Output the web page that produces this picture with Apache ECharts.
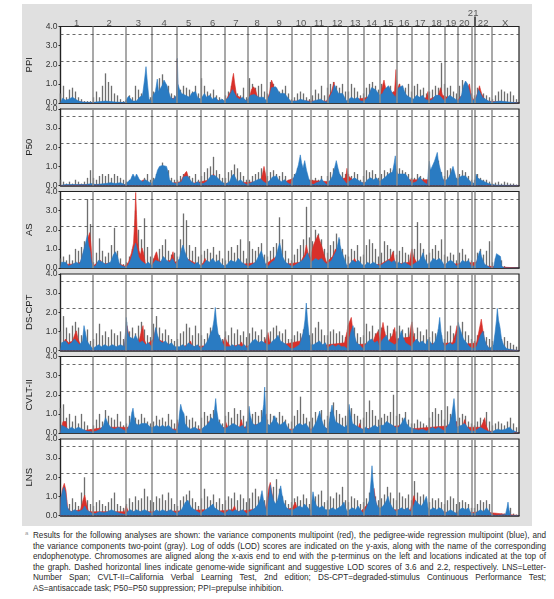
<!DOCTYPE html>
<html><head><meta charset="utf-8">
<script src="https://cdn.jsdelivr.net/npm/echarts@6/dist/echarts.min.js"></script>
<style>
html,body{margin:0;padding:0;background:#fff;}
#wrap{position:relative;width:554px;height:599px;overflow:hidden;}
#bg{position:absolute;left:22px;top:4px;width:510px;height:522px;background:#e0e0e0;}
#chart{position:absolute;left:0;top:0;width:554px;height:530px;}
#note{position:absolute;left:33px;top:531px;width:513px;font-family:'Liberation Sans',Arial,sans-serif;font-size:8.15px;color:#2a2a2a;line-height:10.5px;}
#note div{text-align:justify;text-align-last:justify;white-space:nowrap;}
#note div.last{text-align-last:left;}
#sup{position:absolute;left:25px;top:530px;font-family:'Liberation Sans',Arial,sans-serif;font-size:6px;color:#999;}
</style></head>
<body>
<div id="wrap">
<div id="bg"></div>
<div id="chart"></div>
<div id="sup">a</div>
<div id="note">
<div>Results for the following analyses are shown: the variance components multipoint (red), the pedigree-wide regression multipoint (blue), and</div>
<div>the variance components two-point (gray). Log of odds (LOD) scores are indicated on the y-axis, along with the name of the corresponding</div>
<div>endophenotype. Chromosomes are aligned along the x-axis end to end with the p-terminus on the left and locations indicated at the top of</div>
<div>the graph. Dashed horizontal lines indicate genome-wide significant and suggestive LOD scores of 3.6 and 2.2, respectively. LNS=Letter-</div>
<div>Number Span; CVLT-II=California Verbal Learning Test, 2nd edition; DS-CPT=degraded-stimulus Continuous Performance Test;</div>
<div class="last">AS=antisaccade task; P50=P50 suppression; PPI=prepulse inhibition.</div>
</div>
</div>
<script>
// ---- axes / categories ----
const chromNames = ['1','2','3','4','5','6','7','8','9','10','11','12','13','14','15','16','17','18','19','20','21','22','X'];
const chromBounds = [0,32.5,64.8,91.2,116.2,140.2,164.2,186.8,206.5,230.8,250.2,266.8,286.8,302.8,319.5,335.8,351.5,367.8,384.2,396.8,410.8,414.5,430.8,458.5];
const panelNames = ['PPI','P50','AS','DS-CPT','CVLT-II','LNS'];
const lodMax = 4;
const thresholds = [3.6, 2.2];
const grayStep = 3; // genome-position spacing of two-point values

// ---- PPI ----
const ppiBlue = [[0,0],[2,0.25],[5,0.15],[8,0.2],[12,0.3],[15,0.2],[18,0.1],[22,0.05],[32,0.02],[35,0.05],[45,0.1],[55,0.05],[64,0.02],[66,0],[68,0.35],[70,0.4],[72,0.1],[76,0.1],[79,0.3],[82,0.4],[84,1.2],[85.5,1.9],[87,1.0],[88.5,0.2],[91,0.1],[91.5,0.3],[93,0.45],[95,0.6],[96.8,1.25],[98,0.6],[100,0.5],[101.5,0.9],[103.5,1.2],[105,1.2],[106.5,0.9],[108,0.6],[110,0.3],[113,0.2],[116,0.4],[116.3,0.5],[116.8,2.35],[117.5,1.0],[119,0.7],[121,0.5],[123,0.6],[125,0.4],[127,0.5],[129,0.3],[131,0.5],[133,0.4],[135,0.6],[137,0.3],[140,0.2],[142,0.3],[144,0.5],[146,0.3],[149,0.4],[152,0.2],[155,0.3],[158,0.1],[161,0.2],[164,0.1],[166,0.1],[168,0.3],[170,0.5],[172,0.7],[174,0.6],[176,0.3],[179,0.2],[182,0.3],[186,0.1],[188,0.2],[190,0.4],[192,0.5],[194,0.45],[196,0.5],[198,0.3],[200,0.2],[203,0.3],[206,0.1],[207,0.2],[209,0.4],[211,0.8],[213,0.9],[215,0.85],[217,0.7],[219,0.5],[221,0.4],[224,0.5],[227,0.3],[230,0.1],[232,0.05],[236,0.1],[240,0.2],[243,0.15],[247,0.1],[250,0.05],[252,0.05],[256,0.15],[260,0.2],[263,0.1],[266,0.05],[268,0.2],[270,0.4],[272,0.6],[274,0.95],[276,0.7],[278,0.5],[280,0.6],[282,0.5],[284,0.3],[286,0.1],[288,0.1],[291,0.3],[294,0.2],[297,0.3],[300,0.1],[302,0.05],[304,0.1],[307,0.3],[309,0.5],[311,0.8],[313,0.9],[315,0.7],[317,0.8],[319,0.4],[320,0.3],[322,0.5],[324,0.7],[326,0.8],[328,0.9],[330,0.7],[332,0.5],[335,0.3],[336,0.5],[338,0.8],[340,0.7],[342,0.9],[344,0.6],[346,0.4],[349,0.3],[351,0.2],[353,0.2],[356,0.4],[359,0.3],[362,0.4],[365,0.2],[367,0.1],[369,0.1],[372,0.2],[375,0.4],[377,0.5],[379,0.4],[381,0.3],[384,0.1],[386,0.2],[389,0.4],[392,0.3],[395,0.2],[398,0.1],[401,0.4],[403,0.9],[405,1.15],[407,1.0],[409,0.6],[410.5,0.3],[412,0.1],[414,0.1],[416,0.3],[418,0.7],[420,0.6],[422,0.3],[425,0.2],[428,0.1],[430,0.05],[432,0.05],[440,0.1],[448,0.05],[458,0]];
const ppiRed = [[0,0],[10,0.1],[30,0],[64,0],[80,0.1],[82,0.35],[84,0.2],[91,0.1],[100,0.3],[104,0.5],[110,0.2],[116,0.3],[116.5,2.3],[117.3,0.8],[120,0.3],[140,0.2],[165,0.1],[170,0.6],[172,1.3],[173,1.55],[174,1.1],[176,0.4],[186,0.1],[189,0.3],[191,0.7],[193,0.85],[195,0.7],[197,0.3],[206,0.1],[209,0.5],[211,1.2],[212.5,1.0],[214,0.6],[218,0.3],[230,0.1],[266,0.1],[271,0.6],[273.5,1.1],[275,0.6],[286,0.1],[308,0.3],[311,0.75],[313,0.5],[320,0.4],[322,0.9],[323.5,1.2],[325,0.8],[330,0.5],[334,0.6],[335.5,1.75],[336.5,0.7],[339,1.0],[341,0.6],[350,0.2],[360,0.1],[366,0.3],[367.5,0.6],[369,0.2],[378,0.4],[380,0.8],[382,0.4],[396,0.1],[405,0.6],[409,1.0],[410.5,0.4],[414,0.1],[417,0.5],[419,0.9],[421,0.5],[425,0.1],[458,0]];
const ppiGray = [0.5,0.9,0.3,0.7,0.8,0.6,0.3,0.2,0.1,0.1,0.1, 0.3,0.6,0.3,0.9,1.55,1.1,0.9,0.5,0.4,0.2,0.1, 0.1,0.4,0.3,0.9,0.7,0.5,0.6,0.4,0.3, 0.6,0.8,1.3,1.5,1.0,0.9,0.5,0.4, 0.5,0.7,0.9,0.8,0.7,0.6,0.9,0.5, 1.3,0.9,0.6,0.5,0.7,0.4,0.3,0.2, 0.4,0.6,0.9,0.8,0.5,0.4,0.8,0.3, 1.3,1.0,0.8,0.9,1.0,0.6, 0.5,1.1,1.0,0.8,0.6,0.7,0.9,0.5, 0.2,0.3,0.5,0.6,0.5,0.3,0.2, 0.4,0.7,0.5,0.9,0.4, 0.8,1.0,1.1,0.9,0.8,1.0,0.6, 0.6,1.0,0.8,0.6,0.4, 0.5,0.8,1.0,1.1,0.9,0.7, 1.0,0.9,0.7,0.9,0.6, 1.2,1.0,0.9,0.8,1.0,0.6, 0.9,1.0,0.7,0.8,0.5, 0.6,0.7,0.9,0.8,2.1,1.0, 0.8,0.9,0.6,0.5, 0.9,1.2,1.0,0.8, 0.5,0.4, 0.8,0.6,0.5,0.4,0.3, 0.2,0.4,0.6,0.7,0.6,0.5,0.6,0.4,0.2];

// ---- P50 ----
const p50Blue = [[0,0],[5,0.05],[15,0.05],[25,0.05],[32,0.1],[35,0.05],[45,0.1],[50,0.15],[55,0.1],[60,0.15],[64,0.05],[66,0.05],[70,0.3],[72.5,0.6],[74.5,0.4],[76,0.6],[77.5,0.7],[79,0.3],[82,0.2],[85,0.3],[88,0.2],[91,0.1],[93,0.2],[95,0.4],[97,0.8],[99,1.0],[100.5,0.9],[102,1.05],[104,1.1],[106,1.0],[107.5,0.7],[109,0.3],[112,0.15],[116,0.1],[118,0.1],[121,0.2],[123,0.45],[125,0.55],[127,0.5],[129,0.4],[131,0.2],[134,0.1],[137,0.2],[140,0.1],[143,0.1],[146,0.2],[149,0.4],[151,0.55],[153,0.6],[155,0.5],[157,0.55],[159,0.3],[162,0.15],[164,0.1],[166,0.1],[169,0.2],[171,0.45],[173,0.6],[175,0.4],[177,0.2],[180,0.3],[183,0.15],[186,0.05],[189,0.1],[193,0.2],[197,0.3],[200,0.35],[203,0.2],[206,0.1],[208,0.1],[210,0.3],[212,0.45],[214,0.4],[216,0.5],[218,0.3],[221,0.2],[224,0.3],[227,0.15],[230,0.05],[232,0.1],[234,0.5],[236,0.7],[238,1.1],[239.8,1.6],[241,1.2],[242.5,0.9],[244.2,1.3],[246,0.8],[248,0.4],[250,0.1],[253,0.05],[256,0.15],[259,0.2],[261,0.35],[263,0.2],[266,0.05],[268,0.1],[270,0.3],[272,0.5],[274,0.9],[275.8,1.3],[277.5,0.9],[279,0.6],[281,0.5],[283,0.3],[286,0.1],[288,0.1],[291,0.3],[294,0.4],[297,0.3],[300,0.2],[302,0.1],[304,0.1],[307,0.3],[310,0.4],[313,0.3],[316,0.4],[319,0.2],[321,0.2],[324,0.4],[326,0.5],[328,0.6],[330,0.5],[332,0.7],[333.8,1.2],[334.8,1.55],[335.6,0.9],[337,0.6],[339,0.5],[341,0.6],[343,0.7],[345,0.6],[347,0.5],[349,0.3],[351,0.1],[353,0.1],[356,0.2],[359,0.45],[361,0.3],[364,0.15],[367,0.05],[368,0.9],[368.8,1.27],[370,0.8],[372,0.9],[374,1.27],[375.5,1.2],[376.8,1.73],[378,1.2],[380,0.8],[382,0.4],[384,0.2],[386,0.2],[388,0.4],[390,0.6],[392.5,1.0],[394,0.7],[396,0.3],[398,0.2],[401,0.5],[403,0.6],[405,0.5],[407,0.6],[410,0.2],[412,0.1],[414,0.1],[415.5,0.6],[417,0.4],[420,0.3],[424,0.2],[428,0.1],[430,0.05],[435,0.02],[458,0]];
const p50Red = [[0,0],[30,0.05],[64,0.05],[80,0.2],[83,0.3],[85,0.1],[110,0.1],[120,0.2],[124,0.6],[126,0.74],[128,0.4],[131,0.1],[150,0.3],[153,0.6],[155,0.4],[160,0.1],[200,0.2],[202,0.6],[203.5,1.0],[205,0.6],[206.5,0.2],[220,0.1],[234,0.4],[236,0.5],[238,0.3],[270,0.2],[285,0.4],[286.5,0.9],[288,0.5],[292,0.3],[296,0.1],[330,0.3],[335,0.8],[340,0.3],[380,0.3],[396,0.2],[402,0.3],[404,0.5],[406,0.3],[410,0.1],[430,0],[458,0]];
const p50Gray = [0.3,0.2,0.1,0.2,0.1,0.3,0.2,0.1,0.2,0.4,0.8, 0.4,0.3,0.5,0.6,0.5,0.6,0.4,0.6,0.5,0.4,0.3, 0.2,0.3,0.5,0.4,0.3,0.2,0.4,0.6,0.3, 0.4,0.6,0.9,1.2,0.9,0.8,0.4,0.3, 0.3,0.5,0.6,0.7,0.5,0.4,0.6,0.3, 0.5,0.7,0.9,1.0,1.5,0.8,0.6,0.4, 0.4,0.7,0.8,1.1,0.9,0.7,0.5,0.3, 0.3,0.5,0.6,0.7,0.9,0.6, 0.5,0.7,0.8,0.6,0.5,0.7,0.5,0.3, 0.3,0.6,0.9,1.0,0.8,0.6,0.3, 0.3,0.4,0.3,0.5,0.2, 0.5,0.7,0.9,0.8,0.6,0.7,0.6, 0.6,0.5,0.7,0.6,0.3, 0.5,0.8,0.7,0.8,0.6,0.4, 0.6,0.8,0.7,0.9,0.8, 0.7,0.9,0.8,0.7,0.6,0.4, 0.4,0.6,0.5,0.4,0.3, 0.8,0.9,1.0,1.3,0.7,0.5, 0.8,0.9,0.7,0.4, 0.6,0.8,0.7,0.5, 0.3,0.3, 0.6,0.4,0.3,0.3,0.2, 0.1,0.15,0.2,0.1,0.2,0.15,0.1,0.1,0.05];

// ---- AS ----
const asBlue = [[0,0],[1,0.3],[3,0.2],[5,0.3],[8,0.1],[12,0.2],[16,0.3],[19,0.2],[21,0.5],[23,0.9],[25,1.3],[26.8,1.7],[28,1.2],[29.5,0.9],[31,0.3],[32.5,0.1],[35,0.1],[38,0.4],[40,0.5],[42,0.3],[45,0.2],[50,0.3],[53,0.7],[55,0.85],[57,0.6],[59,0.2],[62,0.1],[64.8,0.05],[67,0.1],[70,0.4],[72,0.7],[74,1.1],[75.2,1.3],[76.5,1.0],[78,0.6],[80,0.4],[82,0.3],[85,0.2],[88,0.3],[91,0.1],[93,0.2],[95,0.4],[97,0.5],[100,0.3],[103,0.6],[106,0.4],[109,0.3],[112,0.5],[115,0.2],[117,0.1],[119,0.5],[121,1.0],[122.5,1.2],[124,0.9],[126,0.6],[128,0.4],[131,0.3],[134,0.2],[137,0.3],[140,0.1],[143,0.2],[146,0.4],[149,0.3],[152,0.5],[155,0.3],[158,0.4],[161,0.2],[164,0.1],[167,0.2],[170,0.4],[172,0.5],[175,0.3],[178,0.5],[181,0.3],[184,0.2],[186.5,0.1],[189,0.1],[192,0.2],[195,0.3],[198,0.6],[200.8,0.9],[202.5,0.6],[205,0.2],[208,0.1],[211,0.3],[214,0.4],[216,0.7],[218,1.1],[219.2,1.3],[220.5,1.0],[222,0.6],[225,0.3],[228,0.2],[230.5,0.1],[233,0.1],[236,0.2],[239,0.3],[242,0.4],[245,0.6],[247,0.8],[249,0.5],[250.5,0.3],[252,0.4],[255,0.5],[258,0.4],[261,0.5],[264,0.3],[266.5,0.2],[268,0.1],[271,0.4],[274,0.7],[276,0.9],[277.5,1.3],[278.5,1.6],[279.5,1.2],[281,0.9],[283,0.6],[285,0.3],[286.5,0.1],[289,0.2],[292,0.4],[295,0.3],[298,0.4],[301,0.2],[304,0.1],[307,0.3],[310,0.2],[313,0.3],[316,0.2],[319,0.1],[322,0.2],[325,0.3],[328,0.4],[331,0.3],[334,0.4],[335.5,0.2],[338,0.3],[341,0.2],[344,0.3],[347,0.2],[350,0.1],[353,0.2],[356,0.3],[359,0.4],[361,0.6],[362.5,0.8],[364,0.5],[367,0.2],[370,0.3],[373,0.5],[376,0.4],[379,0.5],[382,0.3],[384,0.1],[387,0.3],[390,0.4],[393,0.3],[396,0.1],[399,0.2],[402,0.4],[405,0.3],[408,0.4],[410.5,0.1],[412,0.2],[414,0.1],[416,0.3],[418,0.7],[419.5,0.9],[421,0.6],[424,0.2],[427,0.1],[430.5,0],[433,0],[434.5,0.4],[436,0.75],[438,0.8],[440,0.6],[441,0.1],[444,0],[458,0]];
const asRed = [[0,0],[5,0.2],[15,0.2],[20,0.3],[23,0.8],[25,1.2],[27,1.5],[29.2,1.85],[30.5,1.2],[31.5,0.4],[32.5,0.1],[40,0.4],[42,0.2],[55,0.3],[64,0.1],[68,0.3],[71,0.8],[73,1.3],[74.3,2.6],[75.2,3.95],[76,2.8],[77,1.4],[78.5,0.9],[80,0.7],[81.5,1.05],[83,0.8],[85,0.2],[91,0.1],[94,0.6],[96,0.85],[98,0.4],[102,0.3],[110,0.4],[112.5,0.85],[114,0.3],[119,0.4],[124,0.8],[126,0.5],[140,0.1],[143,0.3],[144.5,0.5],[146,0.3],[164,0.1],[200,0.3],[205,0.2],[216,0.6],[218,0.8],[220,0.6],[225,0.2],[240,0.3],[244,0.7],[245.8,1.2],[247.5,0.8],[250,0.5],[251,0.8],[253,1.2],[255.5,1.5],[257.5,1.72],[259.5,1.4],[261.5,1.1],[263.5,0.7],[266,0.3],[272,0.6],[275,1.0],[277,0.8],[286,0.1],[292,0.3],[294,0.5],[296,0.3],[302,0.1],[320,0.2],[330,0.5],[332.5,0.85],[334,0.4],[336,0.2],[349,0.3],[350.5,0.8],[351.5,1.0],[353,0.6],[356,0.3],[367,0.1],[416,0.3],[418,0.6],[420,0.4],[425,0.1],[458,0]];
const asGray = [0.5,0.6,0.4,0.7,0.4,1.0,0.9,1.1,1.4,3.6,2.3, 0.3,0.8,1.55,0.9,0.6,0.8,1.2,2.1,0.9,0.5,0.2, 0.3,0.6,1.0,3.0,2.0,1.5,2.6,1.1,0.6, 0.5,0.8,1.0,1.2,1.5,0.9,0.7,0.8, 0.6,1.5,2.85,2.5,1.2,0.9,1.1,0.6, 0.7,0.9,1.0,0.8,1.1,0.7,0.9,0.5, 0.4,0.9,1.1,0.8,1.2,1.5,0.9,0.5, 1.4,1.0,0.9,1.1,1.3,0.7, 0.6,0.9,1.1,1.3,2.65,1.5,0.9,0.5, 0.4,0.7,1.0,1.2,1.5,3.2,1.6, 1.4,2.0,1.8,1.5,1.0, 0.8,1.2,1.4,1.8,1.5,1.0,0.7, 0.6,1.0,0.9,1.2,0.6, 0.7,1.2,1.5,1.3,1.0,0.6, 0.8,1.4,1.2,1.0,0.9, 0.7,0.9,1.1,0.8,0.7,0.6, 1.0,2.4,1.3,1.0,0.7, 0.8,1.0,1.2,0.9,1.5,0.7, 0.6,0.8,0.7,0.4, 0.8,1.0,0.7,0.5, 0.4,0.3, 0.8,1.0,0.7,0.9,1.4, 0.3,0.5,0.6,0.4,0.1,0,0,0,0];

// ---- DS-CPT ----
const dsBlue = [[0,0],[1,0.4],[3,0.3],[5,0.5],[8,0.3],[11,0.4],[14,0.6],[16,0.5],[19,0.3],[22,0.5],[23.5,1.3],[25.5,1.38],[26.5,0.5],[29,0.3],[32,0.1],[35,0.2],[38,0.3],[41,0.2],[44,0.3],[48,0.2],[52,0.3],[56,0.2],[60,0.3],[64,0.2],[65.3,1.2],[65.8,1.73],[67,1.0],[69,0.7],[71,0.8],[73,0.6],[75,0.8],[77,0.6],[79,0.4],[82,0.5],[85,0.3],[88,0.4],[91,0.2],[93,0.5],[95.2,1.2],[97,0.8],[99,0.5],[102,0.4],[105,0.5],[108,0.3],[111,0.4],[114,0.2],[116,0.1],[119,0.2],[122,0.3],[125,0.2],[128,0.4],[131,0.3],[134,0.2],[137,0.3],[140,0.1],[143,0.2],[146,0.4],[148,0.6],[150,0.9],[152,1.1],[153.5,1.6],[154.8,2.25],[156,1.5],[157.5,0.9],[159,0.8],[161,0.5],[164,0.2],[166,0.3],[169,0.2],[172,0.3],[175,0.2],[178,0.3],[181,0.2],[184,0.3],[186.5,0.1],[189,0.3],[192,0.5],[195,0.6],[198,0.4],[201,0.5],[204,0.4],[206.5,0.3],[209,0.3],[212,0.5],[215,0.6],[217.5,0.8],[220,0.5],[223,0.4],[226,0.3],[230,0.1],[233,0.1],[236,0.2],[239,0.3],[241,0.6],[243,1.0],[244.5,1.6],[245.8,2.48],[247,1.6],[248.5,0.8],[250,0.3],[253,0.3],[256,0.4],[259,0.5],[262,0.3],[265,0.4],[266.5,0.1],[269,0.2],[272,0.3],[275,0.2],[278,0.3],[281,0.2],[284,0.2],[286.5,0.1],[288,0.4],[290,0.9],[292.5,1.3],[294,0.8],[296,0.4],[299,0.3],[302.5,0.1],[305,0.3],[308,0.5],[311,0.6],[314,0.4],[317,0.5],[319,0.2],[321,0.5],[323,0.6],[325.8,0.8],[328,0.5],[331,0.4],[334,0.3],[335.5,0.2],[337,0.4],[339,0.7],[340.8,1.03],[342.5,0.7],[345,0.4],[348,0.3],[351,0.2],[353,0.4],[356,0.6],[359,0.4],[362,0.5],[365,0.3],[367.5,0.6],[369,0.5],[372,0.3],[375,0.5],[377.5,1.0],[379.2,1.73],[380.5,1.0],[382,0.5],[384,0.2],[386,0.3],[389,0.4],[392,0.3],[395,0.4],[397,1.0],[397.8,1.47],[399,1.2],[401,0.9],[403,0.6],[406,0.4],[409,0.2],[410.8,0.1],[412,0.1],[414,0.1],[416,0.2],[418,0.5],[420,0.8],[422.5,1.0],[424,0.6],[426,0.3],[429,0.1],[431,0.05],[433,0.3],[434.5,0.9],[436,1.6],[436.8,2.2],[438,1.6],[439.5,1.2],[441,0.6],[443,0.3],[446,0.1],[450,0.05],[458,0]];
const dsRed = [[0,0],[3,0.4],[5,0.6],[8,0.4],[12,0.5],[14,0.8],[15.8,1.03],[17.5,0.6],[20,0.3],[32,0.1],[64,0.2],[65.3,1.0],[66.5,1.3],[68,0.9],[70,0.5],[76,0.4],[79,0.6],[80.8,1.0],[82.5,1.3],[83.5,0.6],[86,0.3],[93,0.6],[95,1.1],[97,0.6],[116,0.1],[128,0.3],[130,0.5],[132,0.2],[160,0.3],[163,0.5],[164.5,0.7],[166,0.5],[170,0.2],[179,0.3],[181,0.45],[183,0.2],[204,0.4],[206,0.7],[207.5,0.94],[209,0.5],[212,0.2],[240,0.5],[244,1.0],[246,1.2],[248,0.6],[250,0.2],[284,0.4],[286.5,1.0],[287.5,1.3],[289,1.5],[290.8,1.73],[292,1.2],[294,0.6],[297,0.3],[312,0.4],[315,0.8],[317.5,1.0],[319,0.6],[321,1.0],[322.5,1.47],[324,1.0],[327,0.4],[332,0.8],[334.2,1.2],[335.5,0.6],[349,0.7],[350.5,1.3],[351.5,1.5],[353,0.8],[356,0.3],[392,0.4],[395,0.9],[396.5,1.3],[398,0.9],[400,0.3],[416,0.4],[418,0.9],[419.5,1.3],[420.8,1.64],[422,1.2],[424,0.5],[428,0.1],[458,0]];
const dsGray = [1.0,1.8,1.2,0.9,1.3,1.5,1.2,0.8,1.0,1.1,0.5, 0.6,0.9,1.4,0.8,1.0,0.7,1.1,0.9,0.8,1.0,0.6, 1.5,1.0,1.2,0.9,1.3,1.5,1.1,0.8,0.7, 1.4,1.8,1.2,0.9,1.1,0.8,0.6,0.5, 0.6,0.9,1.0,1.4,1.2,0.8,1.3,0.9, 0.8,0.6,0.9,1.2,1.3,1.0,0.8,0.6, 1.0,0.8,1.2,0.9,1.1,0.8,1.0,0.7, 0.9,1.2,1.0,0.8,1.1,0.7, 0.8,1.0,1.2,1.3,1.0,0.9,1.1,0.6, 0.6,0.8,1.0,0.9,1.1,1.3,0.8, 0.9,1.2,1.5,1.1,0.8, 0.8,1.0,1.1,0.9,1.0,0.8,0.7, 1.3,1.0,1.2,0.9,0.7, 0.8,1.4,1.0,1.3,0.9,1.1, 1.2,1.0,1.3,0.9,1.1, 1.0,1.3,1.1,0.9,1.2,0.8, 0.9,1.2,1.0,0.8,1.1, 0.7,1.0,0.9,1.1,0.8,0.6, 1.0,1.3,0.9,0.8, 1.2,1.5,1.0,0.8, 0.6,0.5, 0.8,1.2,1.0,0.7,0.6, 0.5,0.8,0.7,0.6,0.7,0.5,0.4,0.3,0.2];

// ---- CVLT-II ----
const cvltBlue = [[0,0],[1,0.4],[3,0.5],[5,0.3],[8,0.2],[11,0.3],[14,0.2],[18,0.3],[22,0.2],[26,0.1],[32,0.05],[36,0.1],[40,0.2],[43,0.4],[45,0.8],[46,0.9],[47.5,0.5],[50,0.3],[54,0.2],[58,0.3],[62,0.2],[64.8,0.1],[67,0.2],[70,0.6],[71.5,1.1],[72.5,1.3],[73.5,0.9],[75,0.5],[78,0.4],[81,0.5],[83,0.6],[86,0.5],[88,0.6],[90,0.3],[93,0.3],[96,0.4],[99,0.3],[102,0.4],[105,0.3],[108,0.4],[112,0.2],[116,0.1],[118,0.4],[119.2,1.1],[120.2,1.5],[121.5,1.2],[123.5,1.0],[124.5,0.5],[127,0.3],[130,0.2],[134,0.3],[137,0.2],[140,0.1],[143,0.3],[146,0.4],[149,0.6],[150.8,0.8],[153,0.7],[154.2,1.3],[155.2,1.8],[156.2,1.2],[158,0.6],[161,0.4],[164,0.2],[167,0.3],[170,0.4],[172.5,0.5],[174.2,0.6],[176,0.4],[179,0.3],[182,0.4],[185,0.2],[187.5,0.8],[188.5,1.4],[189.8,0.9],[192,0.5],[195,0.4],[198,0.5],[201,0.6],[203.2,1.5],[204.2,2.4],[205.2,1.0],[206.5,0.5],[209,0.4],[212,0.6],[214.2,0.9],[216,0.6],[219,0.4],[222,0.5],[224.2,0.6],[227,0.3],[230.5,0.1],[233,0.2],[236,0.4],[239,0.5],[242,0.4],[245,0.5],[248,0.3],[250,0.1],[253,0.3],[256,0.6],[258,0.9],[259.2,1.15],[260.5,0.8],[263,0.4],[266.5,0.2],[268,0.4],[270,1.0],[271.5,1.46],[273,1.0],[275,0.6],[278,0.5],[281,0.4],[284,0.3],[286.5,0.4],[287.5,1.0],[288.5,1.5],[290,1.0],[292,0.5],[295,0.4],[298,0.3],[302,0.2],[305,0.3],[308,0.2],[311,0.3],[314,0.4],[317,0.3],[319.5,0.4],[320.8,0.5],[323,0.4],[326,0.6],[329,0.5],[332,0.4],[335,0.3],[338,0.3],[341,0.5],[344.2,0.8],[346,0.5],[349,0.3],[351,0.2],[354,0.2],[358,0.15],[362,0.2],[366,0.1],[369,0.2],[372,0.3],[375,0.2],[378,0.3],[381,0.2],[384,0.1],[386,0.3],[389,0.5],[391.5,1.0],[393.5,1.8],[394.8,1.0],[396,0.3],[398,0.2],[401,0.4],[404,0.5],[407,0.3],[410,0.1],[412,0.1],[414,0.1],[417,0.2],[420,0.3],[423,0.2],[427,0.1],[430,0.05],[433,0.1],[437,0.2],[441,0.15],[445,0.2],[449,0.3],[452,0.15],[456,0.05],[458,0]];
const cvltRed = [[0,0],[1,0.3],[2.5,0.6],[5.5,0.6],[6.5,0.2],[20,0.1],[45,0.3],[70,0.3],[116,0.2],[117,0.6],[118.5,0.6],[119.5,0.2],[147,0.2],[148,0.6],[150,0.55],[151,0.2],[164.5,0.3],[165,0.6],[167,0.6],[168,0.2],[179,0.3],[180.8,0.7],[182.5,0.3],[203,0.5],[205.8,1.0],[206.5,0.3],[213,0.5],[215,0.5],[217,0.2],[240,0.2],[298,0.3],[299.2,0.5],[300.5,0.2],[343,0.4],[345,0.5],[347,0.2],[394,0.4],[395.8,0.6],[396.8,0.2],[402,0.3],[404.2,0.7],[406,0.3],[420,0.3],[423,0.6],[424.2,0.8],[425.5,0.4],[428,0.1],[458,0]];
const cvltGray = [1.3,1.5,0.8,1.0,0.6,0.9,0.5,1.0,0.6,0.4,0.2, 0.4,0.7,1.0,0.6,1.2,0.9,0.8,0.7,1.0,0.6,0.4, 0.5,0.9,1.1,0.8,0.7,1.0,0.8,0.6,0.5, 0.6,0.9,0.7,0.8,0.6,1.0,0.7,0.5, 0.7,1.0,0.8,0.9,0.7,0.8,0.6,0.4, 0.8,1.1,0.9,1.0,1.2,0.8,0.7,0.5, 0.9,1.1,0.8,1.3,1.0,1.2,0.9,0.6, 0.8,1.0,1.1,0.9,1.2,0.8, 0.7,1.0,0.9,0.8,1.1,0.9,0.7,0.5, 0.6,0.9,1.2,1.9,1.0,0.8,0.6, 0.8,1.1,0.9,1.2,0.7, 0.9,1.1,1.6,1.2,1.0,0.8,0.9, 1.2,1.3,1.0,0.9,0.7, 0.8,1.1,1.7,1.2,0.9,0.7, 0.8,1.0,0.9,1.1,2.0, 0.9,1.0,0.8,1.1,0.7,0.5, 0.5,0.7,0.6,0.5,0.4, 0.8,1.1,1.3,1.0,1.2,0.7, 1.4,1.0,1.2,0.6, 0.8,1.0,0.9,0.6, 0.5,0.4, 0.6,0.8,0.7,1.1,0.6, 0.4,0.5,0.6,0.5,0.4,0.6,0.8,0.5,0.3];

// ---- LNS ----
const lnsBlue = [[0,0],[0.5,0.9],[2,1.3],[3.5,1.47],[5,1.2],[6.5,0.5],[8,0.3],[11,0.2],[14,0.3],[18,0.2],[22,0.3],[24.2,0.5],[26,0.3],[29,0.2],[32,0.1],[35,0.1],[39,0.2],[43,0.15],[47,0.2],[51,0.3],[55,0.2],[60,0.1],[64.8,0.05],[67,0.2],[70,0.3],[73,0.2],[76,0.3],[80,0.2],[84,0.3],[88,0.2],[91,0.1],[93,0.2],[96,0.3],[99,0.2],[102,0.3],[106,0.2],[110,0.3],[113,0.2],[116,0.1],[118,0.2],[121,0.3],[123,0.5],[125,0.7],[127.5,0.8],[129,0.6],[131,0.4],[134,0.3],[137,0.2],[140,0.1],[142,0.2],[145,0.3],[148,0.4],[150,0.5],[152.5,0.6],[154,0.4],[157,0.3],[160,0.2],[164,0.1],[166,0.2],[169,0.3],[172,0.2],[175,0.3],[178,0.2],[182,0.3],[186,0.1],[189,0.2],[192,0.3],[195,0.4],[198,0.6],[200,0.9],[201.5,1.3],[203,0.8],[205,0.4],[206.5,0.2],[208,0.8],[209.8,1.6],[211,1.2],[213,0.8],[215,0.6],[217,0.8],[219,1.2],[220.2,1.55],[221.5,1.1],[223,0.7],[226,0.4],[229,0.3],[230.8,0.2],[233,0.3],[236,0.4],[239,0.5],[242,0.4],[244,0.6],[245.8,0.7],[247.5,0.4],[250,0.2],[251.5,0.8],[252.5,1.24],[254,0.8],[256,0.5],[259,0.4],[262,0.5],[265,0.3],[266.8,0.2],[269,0.3],[272,0.4],[275,0.3],[278,0.4],[281,0.5],[283.5,0.7],[285,0.4],[286.8,0.2],[289,0.3],[292,0.4],[295,0.3],[297.5,0.5],[300,0.3],[302.8,0.1],[305,0.3],[307,0.4],[309,0.8],[310.5,1.8],[311.5,2.6],[312.5,1.8],[314,1.0],[316,0.6],[318,0.4],[319.5,0.3],[321,0.4],[324,0.6],[326,0.8],[327.5,1.0],[329,0.7],[332,0.4],[335.8,0.2],[338,0.3],[341,0.4],[344,0.3],[347,0.4],[350,0.2],[353,0.5],[355,0.8],[358,0.6],[361,0.5],[363.5,0.7],[365.8,1.0],[367.5,0.4],[370,0.3],[373,0.4],[376,0.3],[379,0.4],[382,0.3],[384,0.1],[387,0.2],[390,0.3],[393,0.2],[396,0.1],[399,0.3],[402,0.4],[405,0.3],[408,0.4],[410.5,0.1],[412,0.1],[414,0.1],[417,0.2],[420,0.3],[423,0.2],[426,0.4],[427.5,0.5],[429,0.2],[430.8,0.05],[435,0],[445,0.05],[446.5,0.4],[447.5,0.7],[448.5,0.3],[450,0],[458,0]];
const lnsRed = [[0,0],[0.5,0.8],[2,1.4],[3.8,1.68],[5.5,1.3],[7,0.4],[10,0.2],[20,0.3],[22.5,0.8],[24.2,1.07],[26,0.6],[28,0.2],[40,0.2],[64,0.2],[65.5,0.5],[66.8,0.6],[68,0.2],[100,0.2],[144,0.3],[150,0.2],[172,0.3],[174,0.5],[176,0.2],[205,0.4],[207,1.0],[208.5,1.5],[209.8,1.73],[211,1.3],[213,0.7],[216,0.5],[225,0.3],[232,0.4],[234.8,0.7],[237,0.3],[300,0.2],[311,0.8],[313.5,1.42],[315,0.8],[317,0.3],[350,0.3],[352,0.8],[353.5,1.04],[355,0.7],[358,0.3],[380,0.2],[400,0.1],[420,0.2],[458,0]];
const lnsGray = [1.0,1.3,0.8,0.6,0.9,0.7,0.5,1.2,2.0,0.8,0.6, 0.5,0.7,0.8,0.6,0.5,0.7,0.9,1.2,0.6,0.5,0.4, 0.6,0.9,0.7,1.0,0.8,0.9,1.4,1.0,0.8, 0.7,1.0,0.9,1.1,0.8,1.2,0.9,0.6, 0.5,0.8,1.0,1.1,1.3,0.9,0.7,0.5, 0.9,1.4,1.0,0.8,1.1,0.7,0.9,0.6, 0.8,1.0,0.9,1.2,0.8,1.1,0.9,0.7, 0.9,1.2,1.4,1.0,1.1,0.8, 1.0,1.3,1.5,1.9,1.4,1.0,0.8,0.6, 0.7,0.9,1.0,0.8,1.1,0.9,0.6, 0.8,1.0,1.1,1.3,0.7, 0.8,1.0,0.9,1.2,1.1,1.5,0.8, 0.7,1.0,0.9,0.8,0.6, 0.7,0.9,1.2,1.0,1.0,0.8, 0.9,1.1,1.5,1.2,0.9, 0.8,1.2,1.0,0.9,1.1,0.8, 1.8,1.2,1.0,1.1,0.9, 0.7,0.9,0.8,0.9,0.7,0.6, 0.8,1.0,0.9,0.6, 0.7,0.8,0.7,0.6, 0.4,0.4, 0.6,0.8,0.7,0.8,0.6, 0.1,0.1,0.05,0.1,0.1,0.2,0.4,0.1,0.05];

// ---- build ----
const blueSets = [ppiBlue, p50Blue, asBlue, dsBlue, cvltBlue, lnsBlue];
const redSets = [ppiRed, p50Red, asRed, dsRed, cvltRed, lnsRed];
const graySets = [ppiGray, p50Gray, asGray, dsGray, cvltGray, lnsGray];

const FONT = "'Liberation Sans', Arial, sans-serif";
const plotLeft = 60.5, plotW = 458.5, top0 = 26.5, pitch = 82.5, plotH = 76.5;
const genomeEnd = chromBounds[chromBounds.length - 1];

const grid = [], xAxis = [], yAxis = [], series = [];
panelNames.forEach((name, i) => {
  grid.push({left: plotLeft, width: plotW, top: top0 + i * pitch, height: plotH,
    show: true, backgroundColor: '#fff', borderColor: '#222', borderWidth: 1.2});
  xAxis.push({gridIndex: i, type: 'value', min: 0, max: genomeEnd,
    axisLine: {show: true, onZero: false, lineStyle: {color: '#222', width: 1.5}},
    axisTick: {show: false}, axisLabel: {show: false}, splitLine: {show: false}});
  yAxis.push({gridIndex: i, type: 'value', min: 0, max: lodMax, interval: 1,
    name: name, nameLocation: 'middle', nameGap: 19, nameRotate: 90,
    nameTextStyle: {fontFamily: FONT, fontSize: 9.5, color: '#222'},
    axisLine: {show: true, lineStyle: {color: '#222', width: 1.2}},
    axisTick: {show: true, length: 2, lineStyle: {color: '#222'}},
    axisLabel: {formatter: v => v.toFixed(1), fontFamily: FONT, fontSize: 8.5, color: '#333', margin: 3},
    splitLine: {show: false}});
  series.push({type: 'bar', name: 'two-point', xAxisIndex: i, yAxisIndex: i, barWidth: 1.3,
    data: graySets[i].map((v, k) => [k * grayStep, v]),
    itemStyle: {color: 'rgba(85,85,85,0.85)'}, z: 1, animation: false, silent: true});
  series.push({type: 'line', name: 'VC multipoint', xAxisIndex: i, yAxisIndex: i, data: redSets[i],
    symbol: 'none', lineStyle: {color: '#d8302a', width: 0.6}, areaStyle: {color: '#d8302a', opacity: 1},
    z: 2, animation: false, silent: true});
  series.push({type: 'line', name: 'regression multipoint', xAxisIndex: i, yAxisIndex: i, data: blueSets[i],
    symbol: 'none', lineStyle: {color: '#2a7bc2', width: 0.6}, areaStyle: {color: '#2a7bc2', opacity: 1},
    z: 3, animation: false, silent: true});
  series.push({type: 'line', xAxisIndex: i, yAxisIndex: i, data: [], z: 5, animation: false, silent: true,
    markLine: {silent: true, symbol: ['none', 'none'], label: {show: false}, animation: false,
      data: chromBounds.slice(1, -1).map(b => ({xAxis: b, lineStyle: {color: '#8c8c8c', width: 1.5, type: 'solid'}}))
        .concat(thresholds.map(t => ({yAxis: t, lineStyle: {color: '#444', width: 0.8, type: [3, 3]}})))}});
});

// chromosome labels on top of first panel
series.push({type: 'scatter', xAxisIndex: 0, yAxisIndex: 0, symbolSize: 0, clip: false, z: 6, silent: true, animation: false,
  data: chromNames.map((n, k) => ({value: [(chromBounds[k] + chromBounds[k + 1]) / 2, lodMax], name: n,
    label: n === '21' ? {offset: [0, -10]} : undefined})),
  label: {show: true, position: 'top', distance: -2, formatter: p => p.name, fontFamily: FONT, fontSize: 9.5, color: '#333'}});
// tick marking chromosome 21
series.push({type: 'scatter', xAxisIndex: 0, yAxisIndex: 0, symbol: 'rect', symbolSize: [2, 10], symbolOffset: [0, -5],
  clip: false, z: 6, silent: true, animation: false, itemStyle: {color: '#333'},
  data: [[chromBounds[21], lodMax]]});

const chart = echarts.init(document.getElementById('chart'), null, {renderer: 'canvas'});
chart.setOption({backgroundColor: 'transparent', animation: false, grid, xAxis, yAxis, series});
</script>
</body></html>
